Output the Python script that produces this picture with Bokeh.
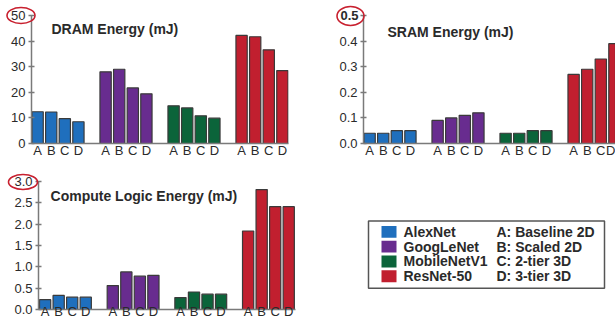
from bokeh.plotting import figure
from bokeh.layouts import GridBox, column, row
from bokeh.models import Range1d, FixedTicker, PrintfTickFormatter, Label, ColumnDataSource
from bokeh.core.properties import value
from bokeh.embed import file_html
from bokeh.resources import INLINE

models = ["AlexNet", "GoogLeNet", "MobileNetV1", "ResNet-50"]
letters = ["A", "B", "C", "D"]
letter_desc = ["A: Baseline 2D", "B: Scaled 2D", "C: 2-tier 3D", "D: 3-tier 3D"]
colors = ["#1f6fbd", "#682c8f", "#0b643a", "#c11f2f"]

dram = [[12.4, 12.3, 9.7, 8.5], [28.0, 29.0, 21.7, 19.4], [14.7, 13.9, 10.8, 9.9], [42.2, 41.7, 36.6, 28.5]]
sram = [[0.04, 0.04, 0.05, 0.05], [0.09, 0.10, 0.11, 0.12], [0.04, 0.04, 0.05, 0.05], [0.27, 0.29, 0.33, 0.39]]
logic = [[0.23, 0.33, 0.29, 0.29], [0.56, 0.88, 0.78, 0.80], [0.28, 0.41, 0.36, 0.36], [1.84, 2.81, 2.41, 2.41]]

FONT = "Liberation Sans"
TXT = "#2a2a2a"
AX = "#7a7a7a"
RING = "#c8202f"


def panel(vals, title, ymax, ystep, fmt, xr, w, h, borders, title_xy, bold_top=None, xstand=1):
    xs, tops, cols, labs = [], [], [], {}
    for g, grp in enumerate(vals):
        for i, v in enumerate(grp):
            x = g * 5 + i
            xs.append(x)
            tops.append(v)
            cols.append(colors[g])
            labs[x] = letters[i]
    src = ColumnDataSource(dict(x=xs, top=tops, color=cols))
    p = figure(width=w, height=h, x_range=Range1d(*xr), y_range=Range1d(0, ymax),
               output_backend="svg", toolbar_location=None,
               min_border_left=borders[0], min_border_right=borders[1],
               min_border_top=borders[2], min_border_bottom=borders[3])
    p.vbar(x="x", top="top", width=0.83, bottom=0, source=src, fill_color="color",
           line_color="#3a3a3a", line_width=1.2)
    p.outline_line_color = None
    p.grid.visible = False
    p.background_fill_color = "white"
    ticks = [round(k * ystep, 6) for k in range(int(round(ymax / ystep)) + 1)]
    ya = p.yaxis[0]
    ya.ticker = FixedTicker(ticks=ticks)
    ya.formatter = PrintfTickFormatter(format=fmt)
    ya.minor_tick_line_color = None
    ya.major_tick_in = 3
    ya.major_tick_out = 3
    ya.major_label_standoff = 3
    ya.axis_line_color = AX
    ya.axis_line_width = 1.5
    ya.major_tick_line_color = AX
    ya.major_tick_line_width = 1.3
    ya.major_label_text_font = FONT
    ya.major_label_text_font_size = "13px"
    ya.major_label_text_color = TXT
    xa = p.xaxis[0]
    xa.ticker = FixedTicker(ticks=xs)
    xa.major_label_overrides = labs
    xa.major_tick_line_color = None
    xa.minor_tick_line_color = None
    xa.major_tick_in = 0
    xa.major_tick_out = 0
    xa.major_label_standoff = xstand
    xa.axis_line_color = AX
    xa.axis_line_width = 1.5
    xa.major_label_text_font = FONT
    xa.major_label_text_font_size = "13px"
    xa.major_label_text_color = TXT
    p.add_layout(Label(x=title_xy[0], y=title_xy[1], text=title, text_font=FONT,
                       text_font_size="14px", text_font_style="bold", text_color=TXT,
                       text_baseline="middle"))
    if bold_top is not None:
        ya.major_label_overrides = {ticks[-1]: " "}
        p.add_layout(Label(x=bold_top, y=ymax, text=fmt % ticks[-1], text_font=FONT,
                           text_font_size="13px", text_font_style="bold", text_color=TXT,
                           text_baseline="middle", text_align="right"), "left")
    return p


p1 = panel(dram, "DRAM Energy (mJ)", 50, 10, "%d", (-0.45, 18.45), 310, 162,
           (31, 22, 14, 19), (1.02, 44.9), xstand=-1)
p2 = panel(sram, "SRAM Energy (mJ)", 0.5, 0.1, "%.1f", (-0.45, 18.08), 305, 162,
           (53, 0, 15, 19), (1.31, 0.4375), bold_top=-0.82, xstand=-1)
p3 = panel(logic, "Compute Logic Energy (mJ)", 3.0, 0.5, "%.1f", (-0.49, 18.5), 310, 162,
           (38, 15, 19, 15), (0.40, 2.65), xstand=-6)

p4 = figure(width=305, height=162, x_range=Range1d(0, 305), y_range=Range1d(162, 0),
            output_backend="svg", toolbar_location=None, min_border=0,
            x_axis_type=None, y_axis_type=None)
p4.outline_line_color = None
p4.grid.visible = False
p4.quad(left=58, right=294, top=50, bottom=135, fill_color=None, line_color="#555555", line_width=1.5)
rows_y = [63.8, 82.5, 101.2, 119.9]
p4.quad(left=[71] * 4, right=[86] * 4, top=[y - 7.5 for y in rows_y], bottom=[y + 7.5 for y in rows_y],
        fill_color=colors, line_color=None)
p4.text(x=[93] * 4, y=rows_y, text=models, text_font=value(FONT), text_font_size="14px",
        text_font_style="bold", text_color=TXT, text_baseline="middle")
p4.text(x=[186] * 4, y=rows_y, text=letter_desc, text_font=value(FONT), text_font_size="14px",
        text_font_style="bold", text_color=TXT, text_baseline="middle")

# transparent overlay carrying the red highlight rings around the top tick labels
ov = figure(width=615, height=324, x_range=Range1d(0, 615), y_range=Range1d(324, 0),
            output_backend="svg", toolbar_location=None, min_border=0,
            min_border_left=0, min_border_right=0, min_border_top=0, min_border_bottom=0,
            x_axis_type=None, y_axis_type=None)
ov.outline_line_color = None
ov.grid.visible = False
ov.background_fill_alpha = 0
ov.border_fill_alpha = 0
ov.ellipse(x=[20.5, 350, 22.5], y=[15, 15.5, 181.5], width=[28, 27, 29], height=[16, 19, 15],
           width_units="screen", height_units="screen",
           fill_color=None, line_color=RING, line_width=1.6)

main = column(row(p1, p2), row(p3, p4))
layout = GridBox(children=[(main, 0, 0), (ov, 0, 0)])
open("out.html", "w").write(file_html(layout, INLINE))
